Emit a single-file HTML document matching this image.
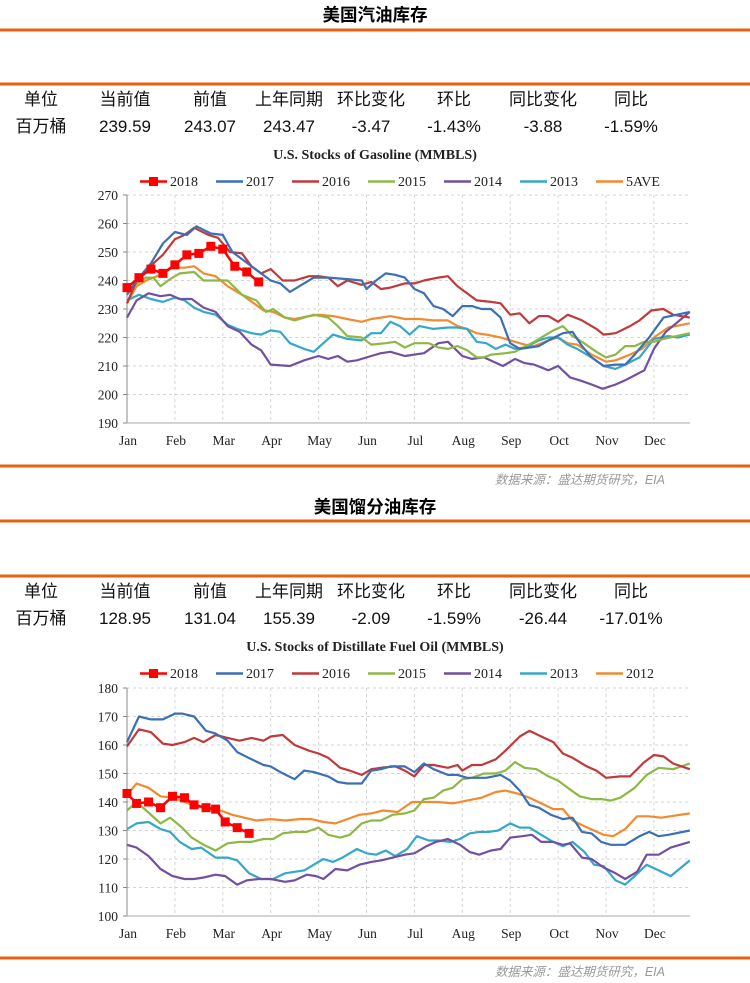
<!DOCTYPE html>
<html><head><meta charset="utf-8">
<style>
html,body{margin:0;padding:0;background:#fff;width:750px;height:983px;overflow:hidden}
svg{display:block}
.cn{font-family:"Liberation Sans","Noto Sans CJK SC",sans-serif}
.tm{font-family:"Liberation Serif",serif}
</style></head><body>
<svg id="s" width="750" height="983" viewBox="0 0 750 983" xmlns="http://www.w3.org/2000/svg"></svg>
<script>
const S=document.getElementById('s');
let h='';
const C={r18:'#ff0000',b:'#3b6fb6',r:'#c0393b',g:'#8db846',p:'#7150a0',c:'#35a7c9',o:'#f28b30'};
function line(x1,y1,x2,y2,col,w,extra){h+=`<line x1="${x1}" y1="${y1}" x2="${x2}" y2="${y2}" stroke="${col}" stroke-width="${w}" ${extra||''}/>`;}
function txt(x,y,t,cls,size,anchor,extra){h+=`<text x="${x}" y="${y}" class="${cls}" font-size="${size}" text-anchor="${anchor||'middle'}" ${extra||''}>${t}</text>`;}
const hdr=['单位','当前值','前值','上年同期','环比变化','环比','同比变化','同比'];
const cx=[41,125,210,289,371,454,543,631];
function section(o){
  txt(375,o.ty,o.title,'cn',17.5,'middle','font-weight="bold" fill="#000"');
  line(0,o.l1,750,o.l1,'#e8610e',3);
  line(0,o.l2,750,o.l2,'#e8610e',3);
  hdr.forEach((t,i)=>txt(cx[i],o.l2+21,t,'cn',17,'middle','fill="#111"'));
  o.vals.forEach((t,i)=>txt(cx[i],o.l2+48,t,'cn',17,'middle','fill="#111"'));
  txt(375,o.l2+75,o.ctitle,'tm',14,'middle','font-weight="bold" fill="#222"');
  const ly=o.l2+102;
  o.names.forEach((n,i)=>{
    const lx=140+i*76;
    line(lx,ly-4.5,lx+27,ly-4.5,o.cols[i],2.5);
    if(i==0)h+=`<rect x="${lx+9}" y="${ly-9}" width="9" height="9" fill="#ff0000"/>`;
    txt(lx+30,ly,n,'tm',14,'start','fill="#222"');
  });
  const x0=127,x1=690,yt=o.yt,yb=o.yb,vmin=o.vmin,vmax=o.vmax;
  const Y=v=>yb-(v-vmin)/(vmax-vmin)*(yb-yt);
  const X=m=>x0+m*47.9;
  for(let v=vmin+10;v<=vmax;v+=10){line(x0,Y(v),x1,Y(v),'#d4d4d4',1,'stroke-dasharray="3,3"');}
  for(let m=1;m<=11;m++){line(X(m),yt,X(m),yb,'#d4d4d4',1,'stroke-dasharray="3,3"');}
  line(x0,yt,x0,yb,'#888',1);line(x0,yb,x1,yb,'#bbb',1.2);
  for(let v=vmin;v<=vmax;v+=10){line(x0-4,Y(v),x0,Y(v),'#888',1);txt(x0-9,Y(v)+5,v,'tm',13.5,'end','fill="#222"');}
  ['Jan','Feb','Mar','Apr','May','Jun','Jul','Aug','Sep','Oct','Nov','Dec'].forEach((m,i)=>txt(X(i)+1,yb+22,m,'tm',13.5,'middle','fill="#222"'));
  for(let i=o.data.length-1;i>=0;i--){
    const d=o.data[i];const pts=[];
    for(let k=0;k<d.length;k+=2)pts.push(X(d[k]).toFixed(1)+','+Y(d[k+1]).toFixed(1));
    h+=`<polyline points="${pts.join(' ')}" fill="none" stroke="${o.cols[i]}" stroke-width="${i==0?2.5:2.2}" stroke-linejoin="round"/>`;
    if(i==0)for(let k=0;k<d.length;k+=2)h+=`<rect x="${X(d[k])-4.5}" y="${Y(d[k+1])-4.5}" width="9" height="9" fill="#ff0000"/>`;
  }
  line(0,o.bl,750,o.bl,'#e8610e',3);
  txt(665,o.bl+18,'数据来源：盛达期货研究，EIA','cn',12.5,'end','fill="#9a9a9a" font-style="italic"');
}
section({ty:21,title:'美国汽油库存',l1:30,l2:84,
 vals:['百万桶','239.59','243.07','243.47','-3.47','-1.43%','-3.88','-1.59%'],
 ctitle:'U.S.  Stocks of  Gasoline (MMBLS)',
 names:['2018','2017','2016','2015','2014','2013','5AVE'],
 cols:[C.r18,C.b,C.r,C.g,C.p,C.c,C.o],
 yt:195,yb:423,vmin:190,vmax:270,bl:466,
 data:[
 [0,237.5,.25,241,.5,244,.75,242.5,1,245.5,1.25,249,1.5,249.5,1.75,252,2,251,2.25,245,2.5,243,2.75,239.5],
 [0,235,.2,240,.5,246,.75,253,1,257,1.25,256,1.45,259,1.75,256.5,2,256,2.2,250,2.6,245,3,240,3.2,239,3.4,236,3.6,238,3.9,241,4.2,241,4.6,240.5,4.9,240,5,237,5.2,240,5.4,242.5,5.6,242,5.8,241,6,237,6.2,235.5,6.4,231,6.6,230,6.8,227.5,7,231,7.2,231,7.4,230,7.6,230,7.8,227,8,218,8.2,216,8.6,217,8.8,219,9.1,221.5,9.3,222,9.5,217,9.7,213,9.95,210,10.2,210.5,10.4,210.5,10.6,214,10.9,220,11.2,227,11.75,229],
 [0,232,.2,240,.55,246,.75,249,1,254.5,1.2,256,1.4,258.5,1.7,256,1.9,255,2.15,250,2.4,249.5,2.6,245,2.8,242.5,3,244,3.25,240,3.5,240,3.8,241.5,4,241.5,4.2,241,4.4,238,4.6,240,4.9,238.5,5.1,239.5,5.3,237,5.5,237.5,5.8,239,6,239,6.2,240,6.5,241,6.7,241.5,6.9,238,7.3,233,7.6,232.5,7.8,232,8,228,8.2,228.5,8.4,225,8.6,227.5,8.8,227.5,9,225.5,9.2,228,9.5,226,9.8,223,9.95,221,10.2,221.5,10.5,224,10.7,226,10.95,229.5,11.2,230,11.4,228,11.75,227],
 [0,236,.2,239,.4,241,.55,241,.7,238,.9,240.5,1.1,242.5,1.4,243,1.6,240,1.85,240,2.1,240,2.4,235,2.7,233,2.9,229,3.05,230,3.3,227,3.5,226,3.9,228,4.2,227,4.4,224,4.6,220.5,4.9,220,5.1,217.5,5.4,218,5.6,218.5,5.8,216.5,6,218,6.3,218,6.5,216.5,6.7,216,6.9,217,7.1,215.5,7.3,213,7.45,213,7.6,214,7.9,214.5,8.1,215,8.5,218.5,8.9,222.5,9.1,224,9.3,220.5,9.5,218.5,9.8,215,10,213,10.2,214,10.4,217,10.6,217,10.8,218.5,11,218.5,11.2,219.5,11.75,221.5],
 [0,227,.2,233,.45,235.5,.7,234.5,.9,235,1.1,233.5,1.35,233.5,1.6,230.5,1.85,229,2.1,224,2.35,222,2.6,217.5,2.8,215.5,3,210.5,3.4,210,3.7,212,4,213.5,4.2,212.5,4.4,213.5,4.6,211.5,4.8,212,5.1,213.5,5.3,214.5,5.5,215,5.8,213.5,6.2,214.5,6.5,218,6.7,218.5,7,213.5,7.2,212.5,7.45,213,7.85,210,8.1,212.5,8.3,211,8.5,210.5,8.8,208.5,9,210,9.25,206,9.45,205,9.7,203.5,9.93,202,10.2,203.5,10.4,205,10.8,208.5,11,216,11.25,222,11.75,229],
 [0,233,.25,235,.5,233.5,.75,232.5,1,234,1.2,233,1.4,230.5,1.6,229,1.85,228,2.1,224.5,2.3,223,2.6,221.5,2.8,221,3,222.5,3.2,222,3.4,218,3.7,216,3.9,215,4.1,218,4.3,221,4.6,219.5,4.9,219,5.1,221.5,5.3,221.5,5.5,225.5,5.7,224,5.9,221,6.1,224,6.4,223,6.7,223.5,6.9,223.5,7.1,223,7.3,218.5,7.5,218,7.7,216,7.9,217.5,8.1,216,8.3,216.5,8.6,219,8.8,220,9,220,9.2,217.5,9.4,216,9.7,213,9.95,210,10.2,209,10.4,210.5,10.7,213,11,219.5,11.3,220.5,11.5,220,11.75,221],
 [0,232,.2,238,.4,240,.7,242,.95,244.5,1.2,244.5,1.4,245,1.6,242.5,1.85,241.5,2.1,238,2.4,235,2.65,232,2.85,229.5,3.05,229,3.3,227,3.5,226.5,3.8,227.5,4,228,4.3,227.5,4.6,226.5,4.9,225.5,5.1,226.5,5.3,227,5.5,227.5,5.8,226.5,6.1,226.5,6.4,226,6.7,226,6.9,224,7.1,223,7.3,221.5,7.5,221,7.8,220,8,219,8.3,217.5,8.5,217,8.8,219,9,220,9.2,218,9.4,217.5,9.7,214,10,211.5,10.2,212,10.5,214,10.75,216,11,220,11.3,223.5,11.75,225]
 ]});
section({ty:513,title:'美国馏分油库存',l1:521,l2:576,
 vals:['百万桶','128.95','131.04','155.39','-2.09','-1.59%','-26.44','-17.01%'],
 ctitle:'U.S.  Stocks of Distillate Fuel Oil (MMBLS)',
 names:['2018','2017','2016','2015','2014','2013','2012'],
 cols:[C.r18,C.b,C.r,C.g,C.p,C.c,C.o],
 yt:688,yb:916,vmin:100,vmax:180,bl:958,
 data:[
 [0,143,.2,139.5,.45,140,.7,138,.95,142,1.2,141.5,1.4,139,1.65,138,1.85,137.5,2.05,133,2.3,131,2.55,129],
 [0,161,.25,170,.5,169,.75,169,1,171,1.15,171,1.4,170,1.65,165,1.85,164,2.1,161.5,2.3,157.5,2.6,155,2.85,153,3,152.5,3.2,150.5,3.5,148,3.7,151,3.9,150.5,4.2,149,4.4,147,4.6,146.5,4.9,146.5,5.1,151,5.3,151.5,5.5,152.5,5.8,152.5,6,150.5,6.2,153.5,6.4,151.5,6.7,149.5,6.9,149.5,7.1,148.5,7.3,148.5,7.5,148.5,7.8,149.5,8,147.5,8.2,144,8.4,139,8.6,138,8.85,135.5,9.1,134,9.3,134.5,9.5,129.5,9.7,129,9.9,126,10.1,125,10.4,125,10.7,128,10.9,129.5,11.1,128,11.3,128.5,11.75,130],
 [0,159.5,.25,165.5,.5,164.5,.75,160.5,.95,160,1.2,161,1.4,162.5,1.6,161,1.85,163.5,2.1,162.5,2.35,161.5,2.6,162.5,2.85,161.5,3,163,3.25,163.5,3.5,160,3.8,158,4,157,4.2,155.5,4.45,152,4.65,151,4.9,149.5,5.1,151.5,5.3,152,5.6,152.5,5.8,151,6,149,6.2,153,6.4,153,6.7,152,6.9,153,7,151,7.2,153,7.4,153,7.7,155,7.9,158,8.2,163,8.4,165,8.65,163,8.9,161,9.1,157,9.3,155.5,9.6,152.5,9.8,151,10,148.5,10.3,149,10.5,149,10.8,154,11,156.5,11.2,156,11.4,153.5,11.75,151.5],
 [0,137,.2,140,.4,137,.7,132.5,.9,134.5,1.15,131,1.35,127.5,1.6,125,1.85,123,2.1,125.5,2.35,126,2.6,126,2.85,127,3.05,127,3.25,129,3.5,129.5,3.75,129.5,4,131,4.2,128.5,4.45,127.5,4.65,128.5,4.9,132.5,5.1,133.5,5.3,133.5,5.55,135.5,5.8,136,6,137,6.2,141,6.4,141.5,6.6,144,6.8,145,7,148,7.2,148.5,7.45,150,7.7,150,7.9,151,8.1,154,8.3,152,8.55,151.5,8.8,149,9,147.5,9.2,145,9.45,142,9.7,141,9.9,141,10.1,140.5,10.3,141.5,10.6,145,10.85,149.5,11.1,152,11.4,151.5,11.75,153.5],
 [0,125,.2,124,.45,121,.7,116.5,.95,114,1.2,113,1.4,113,1.6,113.5,1.85,114.5,2.05,114,2.3,111,2.5,112.5,2.75,113,3,113,3.3,112,3.5,112.5,3.75,114.5,3.95,114,4.1,113,4.35,116.5,4.6,116,4.85,118,5.1,119,5.3,119.5,5.55,120.5,5.8,121.5,6,122,6.25,124.5,6.45,126,6.7,127,6.95,125,7.15,122.5,7.35,121.5,7.6,123,7.8,123.5,8,127.5,8.25,128,8.45,128.5,8.65,126,8.9,126,9.1,125,9.25,125.5,9.5,120.5,9.7,120,9.95,117,10.2,115,10.4,113,10.65,115.5,10.85,121.5,11.1,121.5,11.35,124,11.75,126],
 [0,130.5,.2,132.5,.45,133,.7,130.5,.9,129.5,1.1,126,1.35,123.5,1.55,124,1.85,120.5,2.1,120.5,2.3,119.5,2.55,115,2.8,113,3.05,113,3.3,115,3.5,115.5,3.7,116,3.9,118,4.1,120,4.3,119,4.5,120.5,4.8,123.5,5,122,5.2,121.5,5.4,123,5.6,121,5.85,123.5,6.05,128,6.3,126.5,6.5,126.5,6.75,126,6.95,127,7.15,129,7.35,129.5,7.55,129.5,7.75,130,8,132.5,8.2,131,8.4,131,8.6,129,8.9,126,9.1,124.5,9.3,126,9.55,122.5,9.75,118,9.95,117.5,10.2,112.5,10.4,111,10.6,114,10.85,118,11.1,116,11.35,114,11.75,119.5],
 [0,142.5,.2,146.5,.45,145,.7,142,.95,141.5,1.2,140,1.45,138.5,1.7,137.5,1.95,137,2.2,135.5,2.45,134.5,2.7,133.5,3,134,3.3,133.5,3.6,134,3.85,134,4.1,133,4.35,132.5,4.6,134,4.85,135.5,5.1,136,5.35,137,5.65,136.5,5.95,140,6.2,140,6.5,140,6.8,139.5,7.1,140.5,7.4,141.5,7.7,143.5,7.9,144,8.15,143,8.4,141.5,8.65,139.5,8.9,137.5,9.1,137.5,9.3,133.5,9.55,131.5,9.75,130,9.95,128.5,10.15,128,10.4,130.5,10.65,135,10.9,135,11.15,134.5,11.75,136]
 ]});
S.innerHTML=h;
</script>
</body></html>
